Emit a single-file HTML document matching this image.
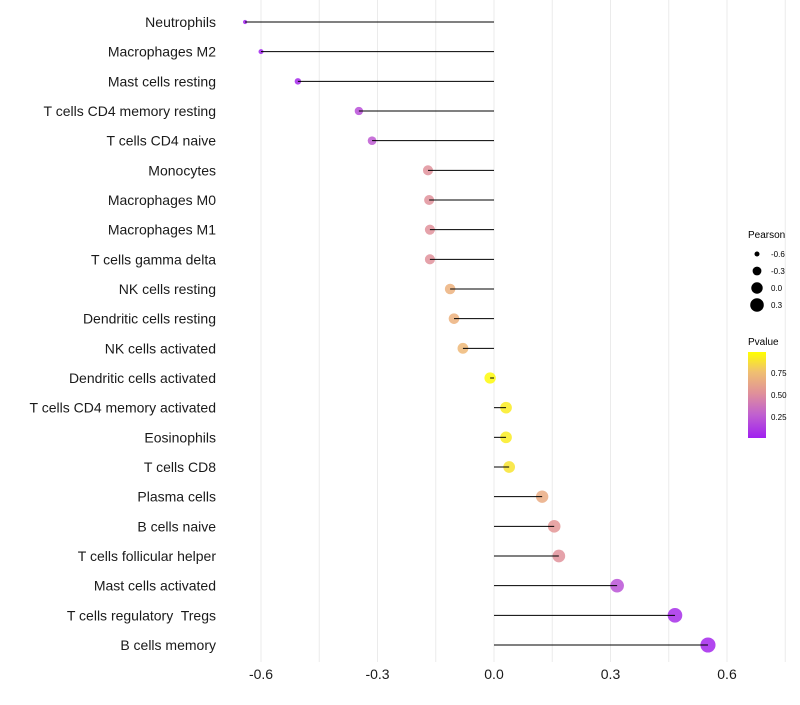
<!DOCTYPE html>
<html><head><meta charset="utf-8"><style>
body{margin:0;background:#fff;}
svg text{font-family:"Liberation Sans",sans-serif;white-space:pre;}
</style></head><body>
<svg id="chart" width="800" height="700">
<defs><linearGradient id="pg" x1="0" y1="1" x2="0" y2="0">
<stop offset="0" stop-color="#a020f0"/><stop offset="0.27" stop-color="#c060d0"/><stop offset="0.52" stop-color="#e0909a"/><stop offset="0.77" stop-color="#f0c070"/><stop offset="1" stop-color="#ffff00"/></linearGradient></defs>
<g id="grid"></g>
<g id="marks"></g>
<g id="ylabels"></g>
<g id="xlabels"></g>
<g>
<text x="748" y="238" font-size="10">Pearson</text>
<g id="sizeLegend"></g>
</g>
<g>
<text x="748" y="345" font-size="10">Pvalue</text>
<rect x="748" y="352" width="18" height="86" fill="url(#pg)"/>
<text x="771" y="376" font-size="8">0.75</text>
<text x="771" y="398" font-size="8">0.50</text>
<text x="771" y="420" font-size="8">0.25</text>
</g>
</svg>
<script>
const categories=["Neutrophils","Macrophages M2","Mast cells resting","T cells CD4 memory resting","T cells CD4 naive","Monocytes","Macrophages M0","Macrophages M1","T cells gamma delta","NK cells resting","Dendritic cells resting","NK cells activated","Dendritic cells activated","T cells CD4 memory activated","Eosinophils","T cells CD8","Plasma cells","B cells naive","T cells follicular helper","Mast cells activated","T cells regulatory  Tregs","B cells memory"];
const pearson=[-0.641,-0.6,-0.505,-0.348,-0.314,-0.17,-0.167,-0.165,-0.165,-0.113,-0.103,-0.08,-0.01,0.031,0.031,0.039,0.124,0.155,0.167,0.317,0.466,0.551];
const pvalue=[0.02,0.02,0.04,0.2,0.25,0.5,0.5,0.5,0.5,0.68,0.68,0.72,0.98,0.93,0.93,0.9,0.65,0.52,0.5,0.22,0.06,0.03];
const xTicks=[-0.6,-0.3,0.0,0.3,0.6];
const xTickLabels=["-0.6","-0.3","0.0","0.3","0.6"];
const sizeLegendValues=[-0.6,-0.3,0.0,0.3];
const NS="http://www.w3.org/2000/svg";
function X(v){return 494+v*(116.5/0.3);}
function Y(i){return 22+i*(623/21);}
function R(v){return Math.sqrt(Math.max(2,32.75+44.2*v));}
const stops=[[0,[160,32,240]],[0.27,[192,96,208]],[0.52,[228,150,150]],[0.77,[240,192,112]],[1,[255,255,0]]];
function C(p){for(let i=1;i<stops.length;i++){if(p<=stops[i][0]){const a=stops[i-1],b=stops[i],t=(p-a[0])/(b[0]-a[0]);return "rgb("+a[1].map((c,k)=>Math.round(c+(b[1][k]-c)*t)).join(",")+")";}}return "rgb(255,255,0)";}
function mk(tag,attrs,parent){const e=document.createElementNS(NS,tag);for(const k in attrs)e.setAttribute(k,attrs[k]);parent.appendChild(e);return e;}
const grid=document.getElementById("grid"),marks=document.getElementById("marks"),yl=document.getElementById("ylabels"),xl=document.getElementById("xlabels"),sl=document.getElementById("sizeLegend");
for(let v=-0.75;v<=0.76;v+=0.15){const x=X(v);if(x<222||x>790)continue;const g=mk("line",{x1:x,x2:x,y1:0,y2:662,stroke:"#ebebeb","stroke-width":1},grid);

}
xTicks.forEach((v,i)=>{const t=mk("text",{x:X(v),y:679,"font-size":14,"text-anchor":"middle",fill:"#1a1a1a"},xl);t.textContent=xTickLabels[i];

});
categories.forEach((c,i)=>{const y=Y(i);
const t=mk("text",{x:216,y:y+5,"font-size":14,"text-anchor":"end",fill:"#1a1a1a"},yl);t.textContent=c;


const dot=mk("circle",{cx:X(pearson[i]),cy:y,r:R(pearson[i]),fill:C(pvalue[i]),"fill-opacity":0.85},marks);


const ln=mk("line",{x1:X(0),x2:X(pearson[i]),y1:y,y2:y,stroke:"#000","stroke-width":1},marks);

});
sizeLegendValues.forEach((v,i)=>{const y=254+i*17;
const d=mk("circle",{cx:757,cy:y,r:R(v),fill:"#000"},sl);


const t=mk("text",{x:771,y:y+3,"font-size":8},sl);t.textContent=(v===0?"0.0":v.toString());

});
</script>
</body></html>
